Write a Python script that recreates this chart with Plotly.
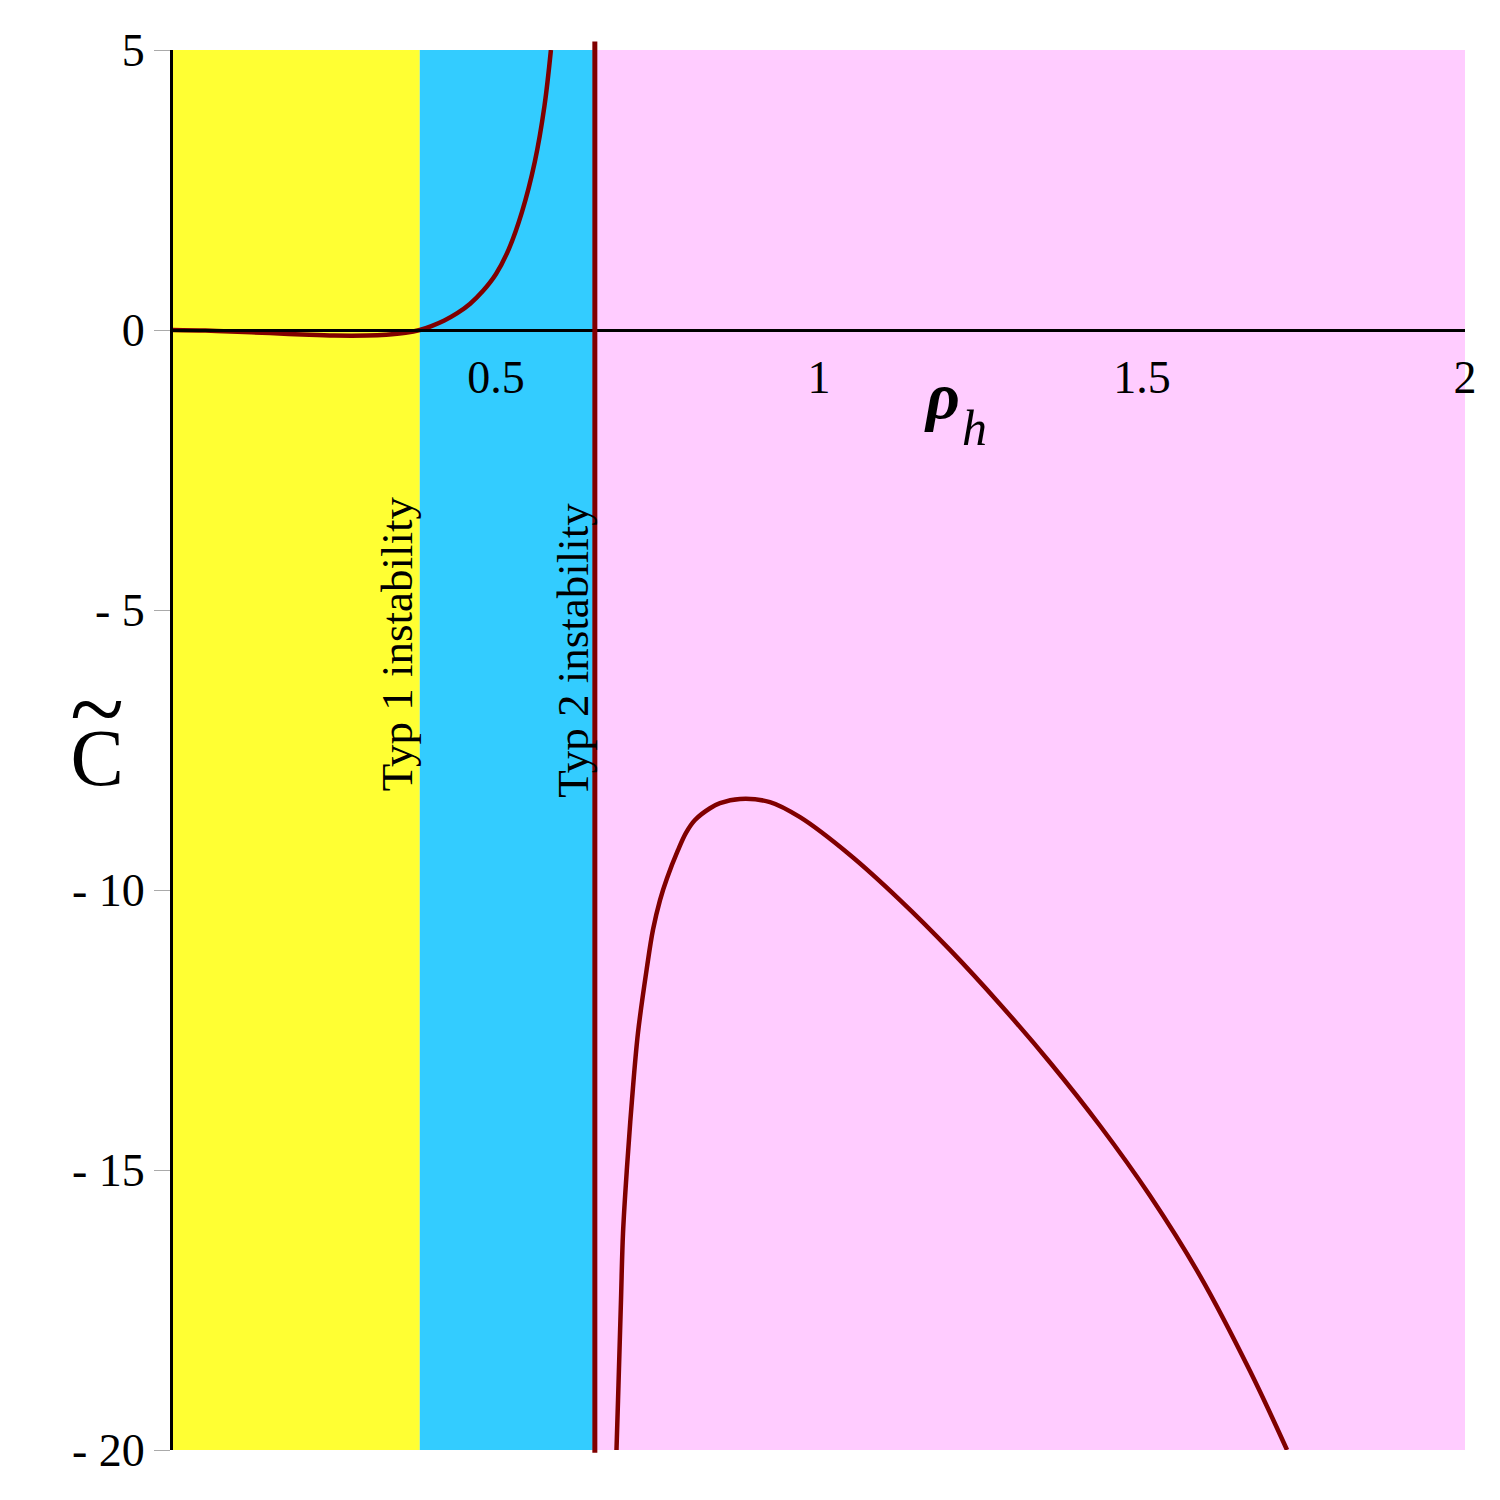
import plotly.graph_objects as go

# ---- data ----
branch1_x = [0.0, 0.05, 0.1, 0.15, 0.2, 0.25, 0.3, 0.33, 0.36, 0.382,
             0.40, 0.42, 0.44, 0.46, 0.48, 0.50, 0.52, 0.54, 0.56, 0.575, 0.585]
branch1_y = [0.0, -0.01, -0.03, -0.055, -0.08, -0.1, -0.1, -0.085, -0.05, 0.0,
             0.07, 0.17, 0.3, 0.47, 0.7, 1.0, 1.45, 2.1, 3.0, 4.0, 5.0]

branch2_x = [0.6865, 0.6889, 0.6904, 0.6935, 0.6966, 0.7028, 0.7105, 0.7198, 0.7337, 0.7430,
             0.7539, 0.7647, 0.7817, 0.7941, 0.8080, 0.8313, 0.8467, 0.8777, 0.9241, 0.9706,
             1.048, 1.1254, 1.2028, 1.2802, 1.3576, 1.435, 1.5124, 1.5898, 1.6672, 1.7245]
branch2_y = [-20.0, -19.11, -18.52, -17.32, -16.13, -14.95, -13.75, -12.55, -11.38, -10.71,
             -10.18, -9.79, -9.29, -8.98, -8.75, -8.54, -8.45, -8.375, -8.43, -8.70,
             -9.375, -10.18, -11.07, -12.04, -13.08, -14.21, -15.46, -16.89, -18.59, -20.0]

asymptote_x = 0.653
region_edges = [0.0, 0.382, 0.650, 2.0]
region_colors = ["#FFFF33", "#33CCFF", "#FFCCFF"]
region_labels = ["Typ 1 instability", "Typ 2 instability"]
label_x = [0.347, 0.619]
label_y = [-5.61, -5.71]

x_tickvals = [0.5, 1, 1.5, 2]
x_ticktext = ["0.5", "1", "1.5", "2"]
y_tickvals = [5, 0, -5, -10, -15, -20]
y_ticktext = ["5", "0", "- 5", "- 10", "- 15", "- 20"]

curve_color = "#800000"
font_family = "Liberation Serif"

W, H = 1500, 1500
ml, mr, mt, mb = 173, 35, 50, 50
pw, ph = W - ml - mr, H - mt - mb


def px2paper(px, py):
    return (px - ml) / pw, 1 - (py - mt) / ph


fig = go.Figure()

for bx, by in ((branch1_x, branch1_y), (branch2_x, branch2_y)):
    fig.add_trace(go.Scatter(x=bx, y=by, mode="lines",
                             line=dict(color=curve_color, width=4.5, shape="spline", smoothing=1.0),
                             showlegend=False, hoverinfo="skip"))

shapes = []
for i, c in enumerate(region_colors):
    shapes.append(dict(type="rect", xref="x", yref="y", x0=region_edges[i], x1=region_edges[i + 1],
                       y0=-20, y1=5, fillcolor=c, line=dict(width=0), layer="below"))
shapes.append(dict(type="line", xref="x", yref="paper", x0=asymptote_x, x1=asymptote_x,
                   y0=-0.002, y1=1.006, line=dict(color=curve_color, width=5), layer="above"))
fig.update_layout(shapes=shapes)

for t, lx, ly in zip(region_labels, label_x, label_y):
    fig.add_annotation(x=lx, y=ly, xref="x", yref="y", text=t, showarrow=False,
                       textangle=-90, font=dict(family=font_family, size=45, color="black"),
                       xanchor="center", yanchor="middle")


def paper_text(px, py, text, size):
    x, y = px2paper(px, py)
    fig.add_annotation(x=x, y=y, xref="paper", yref="paper", text=text, showarrow=False,
                       xanchor="center", yanchor="middle", align="center",
                       font=dict(family=font_family, size=size, color="black"))


# y-axis title: C with a tilde above (one text, two lines)
paper_text(97, 727,
           '<span style="font-size:100px">~</span><br><span style="font-size:80px">C</span>', 33)
# x-axis title: bold rho with italic h subscript
paper_text(942, 396, "<b><i>ρ</i></b>", 66)
paper_text(975, 428, "<i>h</i>", 50)

fig.update_layout(
    width=W, height=H,
    margin=dict(l=ml, r=mr, t=mt, b=mb),
    paper_bgcolor="white", plot_bgcolor="white",
    font=dict(family=font_family, size=46, color="black"),
    xaxis=dict(range=[0, 2], showgrid=False, zeroline=False, showline=True, linecolor="black",
               linewidth=3, anchor="free", position=0.8, tickvals=x_tickvals, ticktext=x_ticktext,
               ticks="", ticklabelstandoff=6, tickfont=dict(family=font_family, size=46)),
    yaxis=dict(range=[-20, 5], showgrid=False, zeroline=False, showline=True, linecolor="black",
               linewidth=3, tickvals=y_tickvals, ticktext=y_ticktext, ticks="outside",
               ticklen=16, tickcolor="#aaaaaa", tickwidth=1, ticklabelstandoff=0,
               tickfont=dict(family=font_family, size=46)),
)

fig.write_html("out.html")
